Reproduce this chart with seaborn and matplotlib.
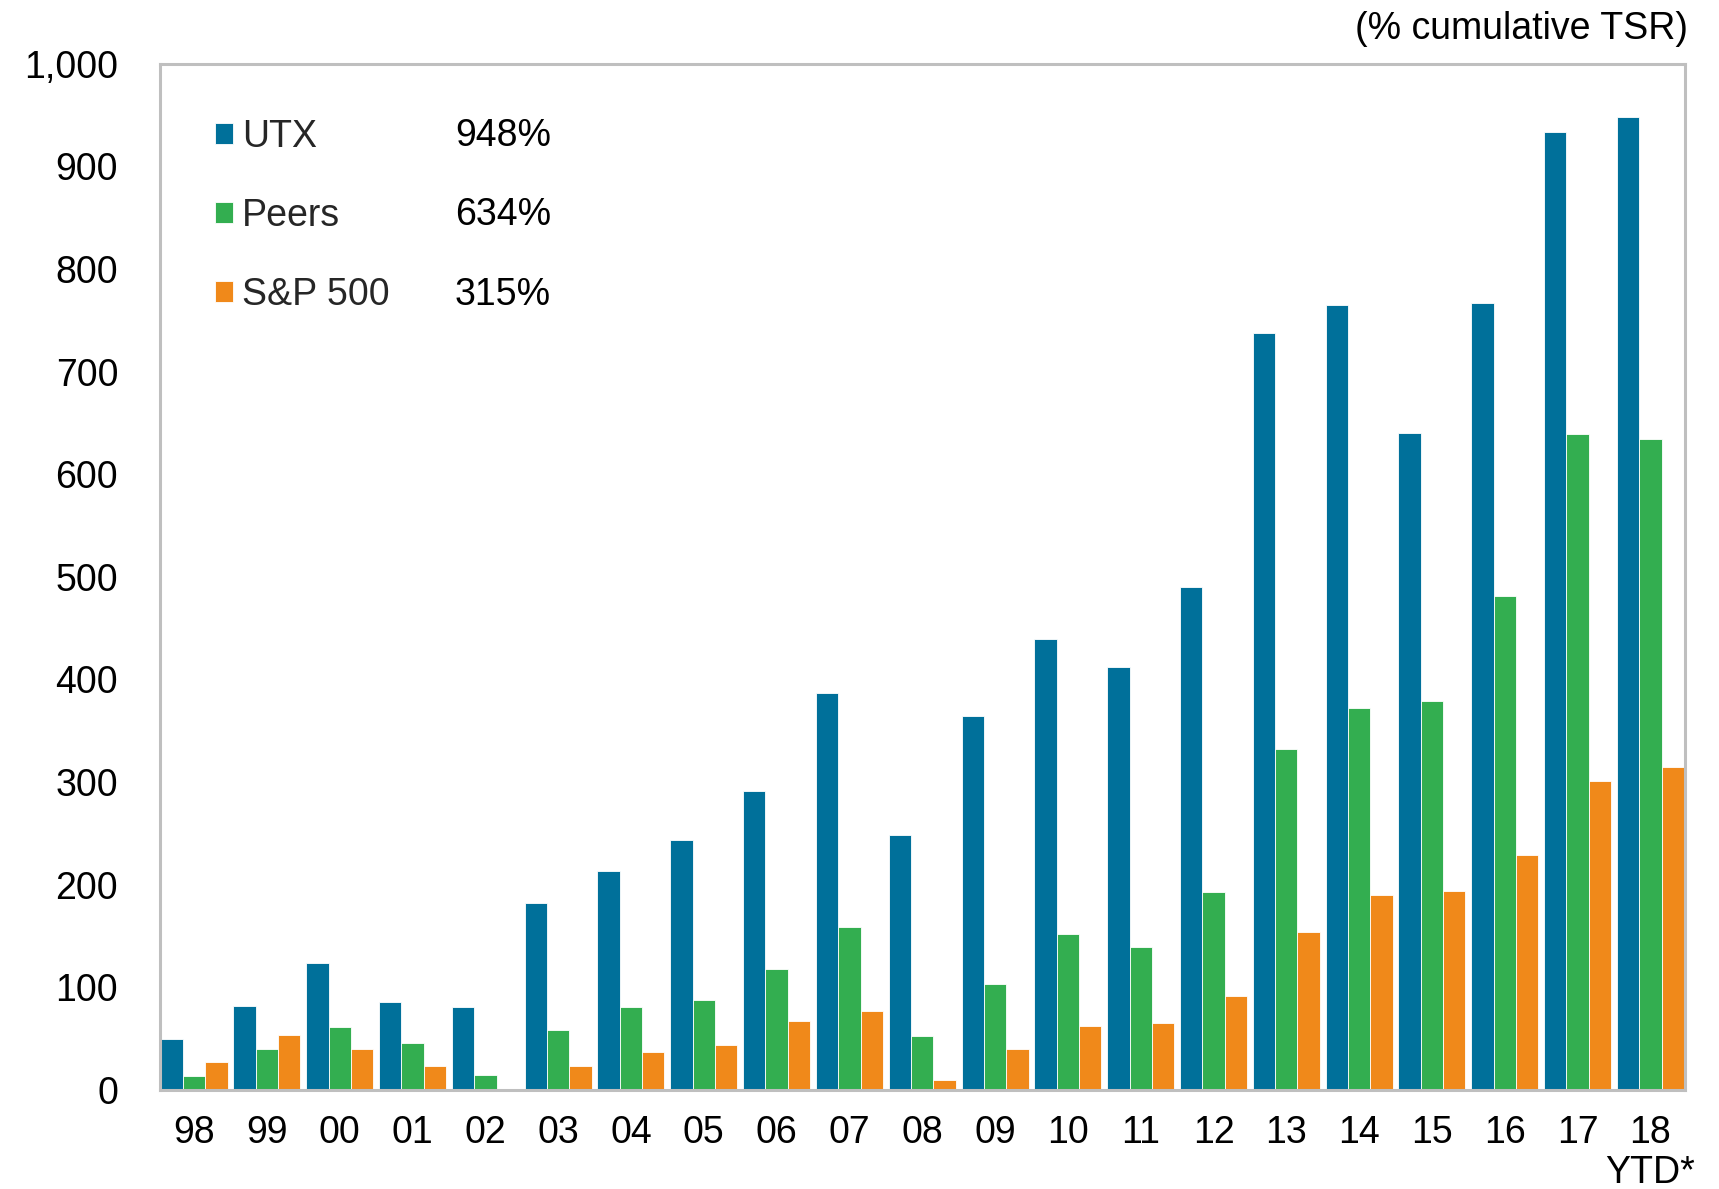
import matplotlib
matplotlib.use("Agg")
import matplotlib.pyplot as plt
import seaborn as sns
import pandas as pd

years = ["98", "99", "00", "01", "02", "03", "04", "05", "06", "07", "08",
         "09", "10", "11", "12", "13", "14", "15", "16", "17", "18\nYTD*"]
utx = [50, 82, 124, 86, 81, 182, 213, 244, 291, 387, 248,
       364, 439, 412, 490, 738, 765, 640, 767, 933, 948]
peers = [14, 40, 61, 46, 15, 58, 81, 88, 118, 159, 53,
         103, 152, 139, 193, 332, 372, 379, 481, 639, 634]
sp500 = [27, 54, 40, 23, -2, 23, 37, 44, 67, 77, 10,
         40, 62, 65, 92, 154, 190, 194, 229, 301, 315]
series_names = ["UTX", "Peers", "S&P 500"]
series_totals = ["948%", "634%", "315%"]
colors = ["#00709A", "#33AE50", "#F0891A"]
yticks = list(range(0, 1001, 100))

rows = []
for name, vals in zip(series_names, [utx, peers, sp500]):
    for y, v in zip(years, vals):
        rows.append({"year": y, "series": name, "value": v})
df = pd.DataFrame(rows)

sns.set_theme(style="white")
plt.rcParams["font.family"] = ["Liberation Sans", "DejaVu Sans"]

FS = 27
fig = plt.figure(figsize=(17.19, 11.89), dpi=100)
ax = fig.add_axes([0.093, 0.0833, 0.887, 0.8632])

sns.barplot(data=df, x="year", y="value", hue="series", order=years,
            hue_order=series_names, palette=colors, width=0.92,
            edgecolor="white", linewidth=0.6, saturation=1, ax=ax)

ax.set_ylim(0, 1000)
ax.set_xlim(-0.47, len(years) - 0.53)
ax.set_yticks(yticks)
ax.set_yticklabels([f"{t:,}" for t in yticks])
ax.set_xlabel("")
ax.set_ylabel("")
ax.tick_params(axis="both", length=0, labelsize=FS, colors="black")
ax.tick_params(axis="x", pad=18)
ax.tick_params(axis="y", pad=30)
for lbl in ax.get_xticklabels():
    lbl.set_linespacing(1.15)
for s in ax.spines.values():
    s.set_color("#BFBFBF")
    s.set_linewidth(2.2)
    s.set_visible(True)

handles, labels = ax.get_legend_handles_labels()
ax.legend(handles, labels, loc="upper left", bbox_to_anchor=(0.026, 0.961),
          frameon=False, fontsize=FS, handlelength=0.49, handleheight=0.49,
          handletextpad=0.25, labelspacing=1.15, borderaxespad=0)

ytop = [0.9297, 0.8528, 0.7748]
for t, yy in zip(series_totals, ytop):
    ax.text(0.1934, yy, t, transform=ax.transAxes, fontsize=FS,
            ha="left", va="center", color="black")

fig.text(0.982, 0.976, "(% cumulative TSR)", ha="right", va="center",
         fontsize=FS, color="black")

fig.savefig("out.png", dpi=100)
